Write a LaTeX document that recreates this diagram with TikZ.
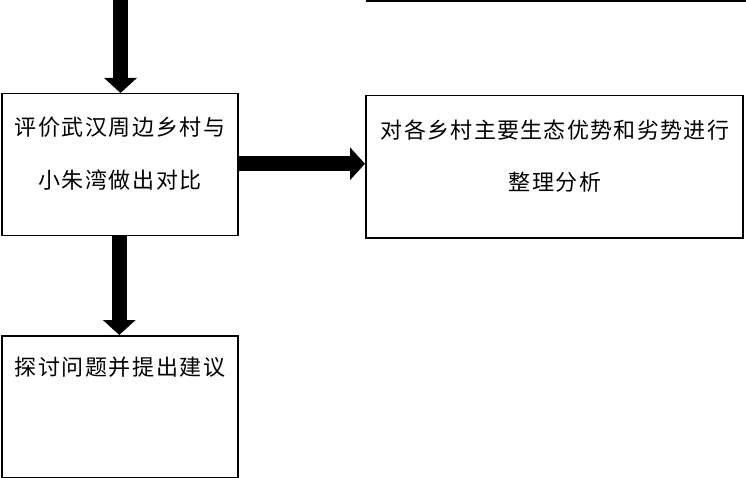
\documentclass[tikz,border=0pt]{standalone}
\usepackage{fontspec}
\newfontfamily\cjkA[LetterSpace=7]{Noto Sans CJK SC}
\newfontfamily\cjkB[LetterSpace=6]{Noto Sans CJK SC}
\usetikzlibrary{arrows.meta}
\tikzset{
  box/.style={draw=black, line width=1.5pt, minimum width=236pt, minimum height=142pt, inner sep=0pt, anchor=north west},
  txt/.style={inner sep=0pt, font=\fontsize{22}{22}\selectfont\cjkA},
  txtB/.style={inner sep=0pt, font=\fontsize{22}{22}\selectfont\cjkB},
  bigarrow/.style={line width=15pt, -{Triangle[length=15pt, width=32pt]}},
  edge/.style={line width=1.5pt}
}
\begin{document}
\begin{tikzpicture}[x=1pt, y=-1pt]
\useasboundingbox (0,0) rectangle (746,478);
% boxes
\node[box] (b1) at (1,93) {};
\node[box, minimum width=377pt] (b2) at (365,95) {};
\node[box] (b3) at (1,335) {};
% texts
\node[txt] (t1a) at (120,127) {评价武汉周边乡村与};
\node[txt] (t1b) at (120,180) {小朱湾做出对比};
\node[txtB] (t2a) at (555,130) {对各乡村主要生态优势和劣势进行};
\node[txt] (t2b) at (555,182) {整理分析};
\node[txt] (t3) at (120,367) {探讨问题并提出建议};
% top partial edge
\coordinate (l1) at (366,0.8);
\coordinate (l2) at (746,0.8);
\draw[edge] (l1) -- (l2);
% arrows
\coordinate (top) at (120.5,0);
\draw[bigarrow] (top) -- (top |- b1.north);
\draw[bigarrow] ([yshift=1pt]b1.east) -- ([yshift=1pt]b1.east -| b2.west);
\draw[bigarrow] ([xshift=-0.5pt]b1.south) -- ([xshift=-0.5pt]b3.north);
\end{tikzpicture}
\end{document}
